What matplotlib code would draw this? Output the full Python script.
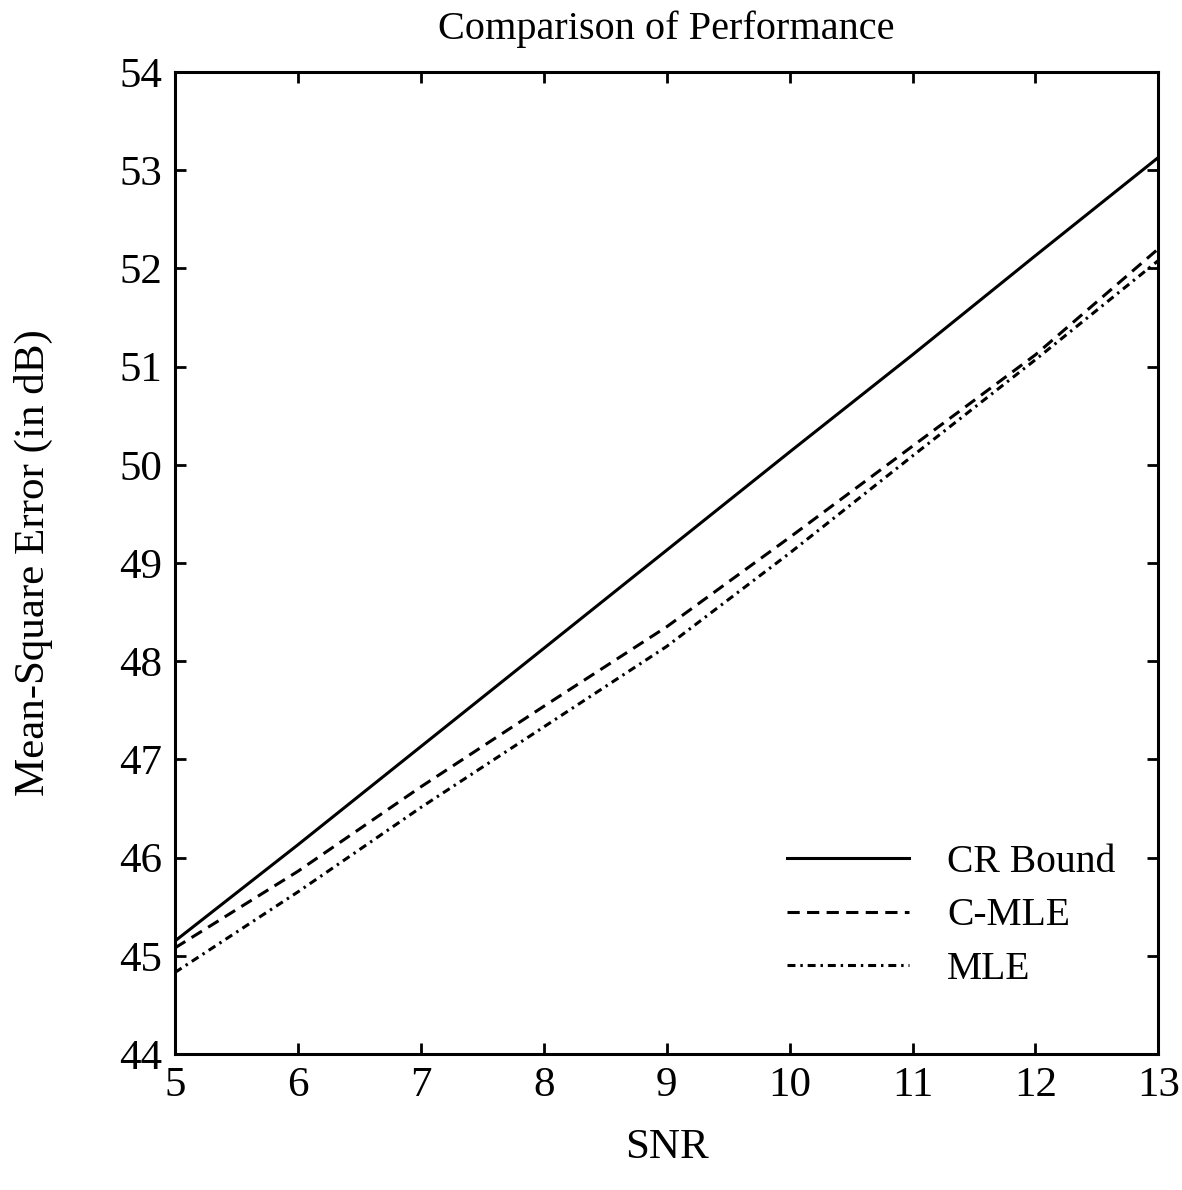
"""Comparison of estimator performance against the CR bound."""

from __future__ import annotations

import matplotlib

matplotlib.use("Agg")
import matplotlib.pyplot as plt

SNR: list[int] = [5, 6, 7, 8, 9, 10, 11, 12, 13]
CR_BOUND: list[float] = [45.15, 46.13, 47.13, 48.13, 49.13, 50.13, 51.12, 52.13, 53.13]
C_MLE: list[float] = [45.08, 45.86, 46.72, 47.54, 48.35, 49.26, 50.19, 51.12, 52.2]
MLE: list[float] = [44.83, 45.65, 46.51, 47.33, 48.15, 49.1, 50.09, 51.07, 52.08]

X_TICKS: list[int] = [5, 6, 7, 8, 9, 10, 11, 12, 13]
Y_TICKS: list[int] = [44, 45, 46, 47, 48, 49, 50, 51, 52, 53, 54]


def plot_performance(output_path: str = "out.png") -> None:
    """Draw the three MSE curves and save the figure."""
    plt.rcParams["font.family"] = ["Liberation Serif", "DejaVu Serif"]

    fig = plt.figure(figsize=(11.82, 11.90), dpi=100)
    ax = fig.add_axes([0.148, 0.1143, 0.832, 0.8252])

    lw = 2.2
    ax.plot(SNR, CR_BOUND, color="black", lw=lw, ls="-", label="CR Bound")
    ax.plot(SNR, C_MLE, color="black", lw=lw, ls=(0, (4.0, 2.4)), label="C-MLE")
    ax.plot(SNR, MLE, color="black", lw=lw, ls=(0, (2.6, 1.6, 0.8, 1.6)), label="MLE")

    ax.set_xlim(5, 13)
    ax.set_ylim(44, 54)
    ax.set_xticks(X_TICKS)
    ax.set_yticks(Y_TICKS)
    ax.tick_params(direction="in", length=8, width=2, labelsize=31,
                   top=True, right=True, pad=9)
    for spine in ax.spines.values():
        spine.set_linewidth(2.2)

    ax.set_title("Comparison of Performance", fontsize=29, pad=24)
    ax.set_xlabel("SNR", fontsize=31, labelpad=17)
    ax.set_ylabel("Mean-Square Error (in dB)", fontsize=31, labelpad=48)

    ax.legend(loc="upper left", bbox_to_anchor=(0.622, 0.214), frameon=False,
              fontsize=28.5, handlelength=3.1, handletextpad=0.95,
              labelspacing=0.42, borderpad=0, borderaxespad=0)

    fig.savefig(output_path, dpi=100)
    plt.close(fig)


if __name__ == "__main__":
    plot_performance()
